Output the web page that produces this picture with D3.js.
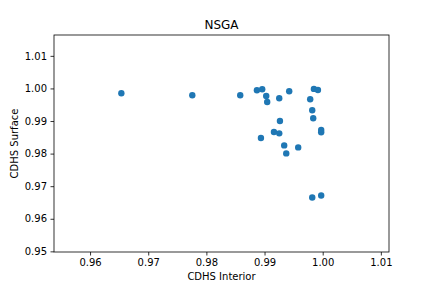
<!DOCTYPE html>
<html>
<head>
<meta charset="utf-8">
<script src="https://cdn.jsdelivr.net/npm/d3@7"></script>
<style>
  body { margin: 0; background: #fff; }
  text { font-family: "DejaVu Sans", sans-serif; fill: #000; }
</style>
</head>
<body>
<div id="chart"></div>
<script>
// CDHS interior vs surface, one point per solution
const interior = [0.96538, 0.97758, 0.98582, 0.98869, 0.98960, 0.99029, 0.99046, 0.99253,
  0.99424, 0.99785, 0.99849, 0.99918, 0.99820, 0.99837, 0.99265, 0.99974, 0.99974,
  0.99162, 0.99253, 0.98938, 0.99338, 0.99579, 0.99373, 0.99820, 0.99974];
const surface = [0.99852, 0.99791, 0.99791, 0.99945, 0.99975, 0.99769, 0.99585, 0.99698,
  0.99914, 0.99668, 0.99985, 0.99954, 0.99329, 0.99083, 0.99000, 0.98723, 0.98652,
  0.98662, 0.98622, 0.98477, 0.98252, 0.98191, 0.98006, 0.96652, 0.96714];
const xTicks = [0.96, 0.97, 0.98, 0.99, 1.00, 1.01];
const yTicks = [0.95, 0.96, 0.97, 0.98, 0.99, 1.00, 1.01];

const width = 432, height = 288;
const margin = {top: 35, right: 43, bottom: 36, left: 54};
const w = width - margin.left - margin.right;
const h = height - margin.top - margin.bottom;

const svg = d3.select('#chart').append('svg')
  .attr('width', width)
  .attr('height', height);

const g = svg.append('g')
  .attr('transform', 'translate(' + margin.left + ',' + margin.top + ')');

const x = d3.scaleLinear().domain([0.9538, 1.0114]).range([0, w]);
const y = d3.scaleLinear().domain([0.9498, 1.0164]).range([h, 0]);

const data = interior.map((d, i) => ({x: d, y: surface[i]}));

g.selectAll('.dot')
  .data(data)
  .enter().append('circle')
  .attr('class', 'dot')
  .attr('cx', d => x(d.x))
  .attr('cy', d => y(d.y))
  .attr('r', 3.2)
  .style('fill', '#1f77b4');

const xAxis = d3.axisBottom(x).tickValues(xTicks).tickFormat(d3.format('.2f'))
  .tickSize(3.5).tickPadding(3.5);
const yAxis = d3.axisLeft(y).tickValues(yTicks).tickFormat(d3.format('.2f'))
  .tickSize(3.5).tickPadding(3.5);

g.append('g')
  .attr('transform', 'translate(0,' + h + ')')
  .call(xAxis)
  .call(a => a.select('.domain').remove())
  .selectAll('text').style('font-size', '10px').style('font-family', 'DejaVu Sans');

g.append('g')
  .call(yAxis)
  .call(a => a.select('.domain').remove())
  .selectAll('text').style('font-size', '10px').style('font-family', 'DejaVu Sans');

g.selectAll('.tick line').attr('stroke', '#000').attr('stroke-width', 0.8);

// frame
g.append('rect')
  .attr('width', w).attr('height', h)
  .attr('fill', 'none').attr('stroke', '#000').attr('stroke-width', 0.8);

svg.append('text')
  .attr('x', margin.left + w / 2).attr('y', 29)
  .attr('text-anchor', 'middle')
  .style('font-size', '12px')
  .text('NSGA');

svg.append('text')
  .attr('x', margin.left + w / 2).attr('y', 280)
  .attr('text-anchor', 'middle')
  .style('font-size', '10px')
  .text('CDHS Interior');

svg.append('text')
  .attr('transform', 'translate(18,' + (margin.top + h / 2) + ') rotate(-90)')
  .attr('text-anchor', 'middle')
  .style('font-size', '10px')
  .text('CDHS Surface');
</script>
</body>
</html>
